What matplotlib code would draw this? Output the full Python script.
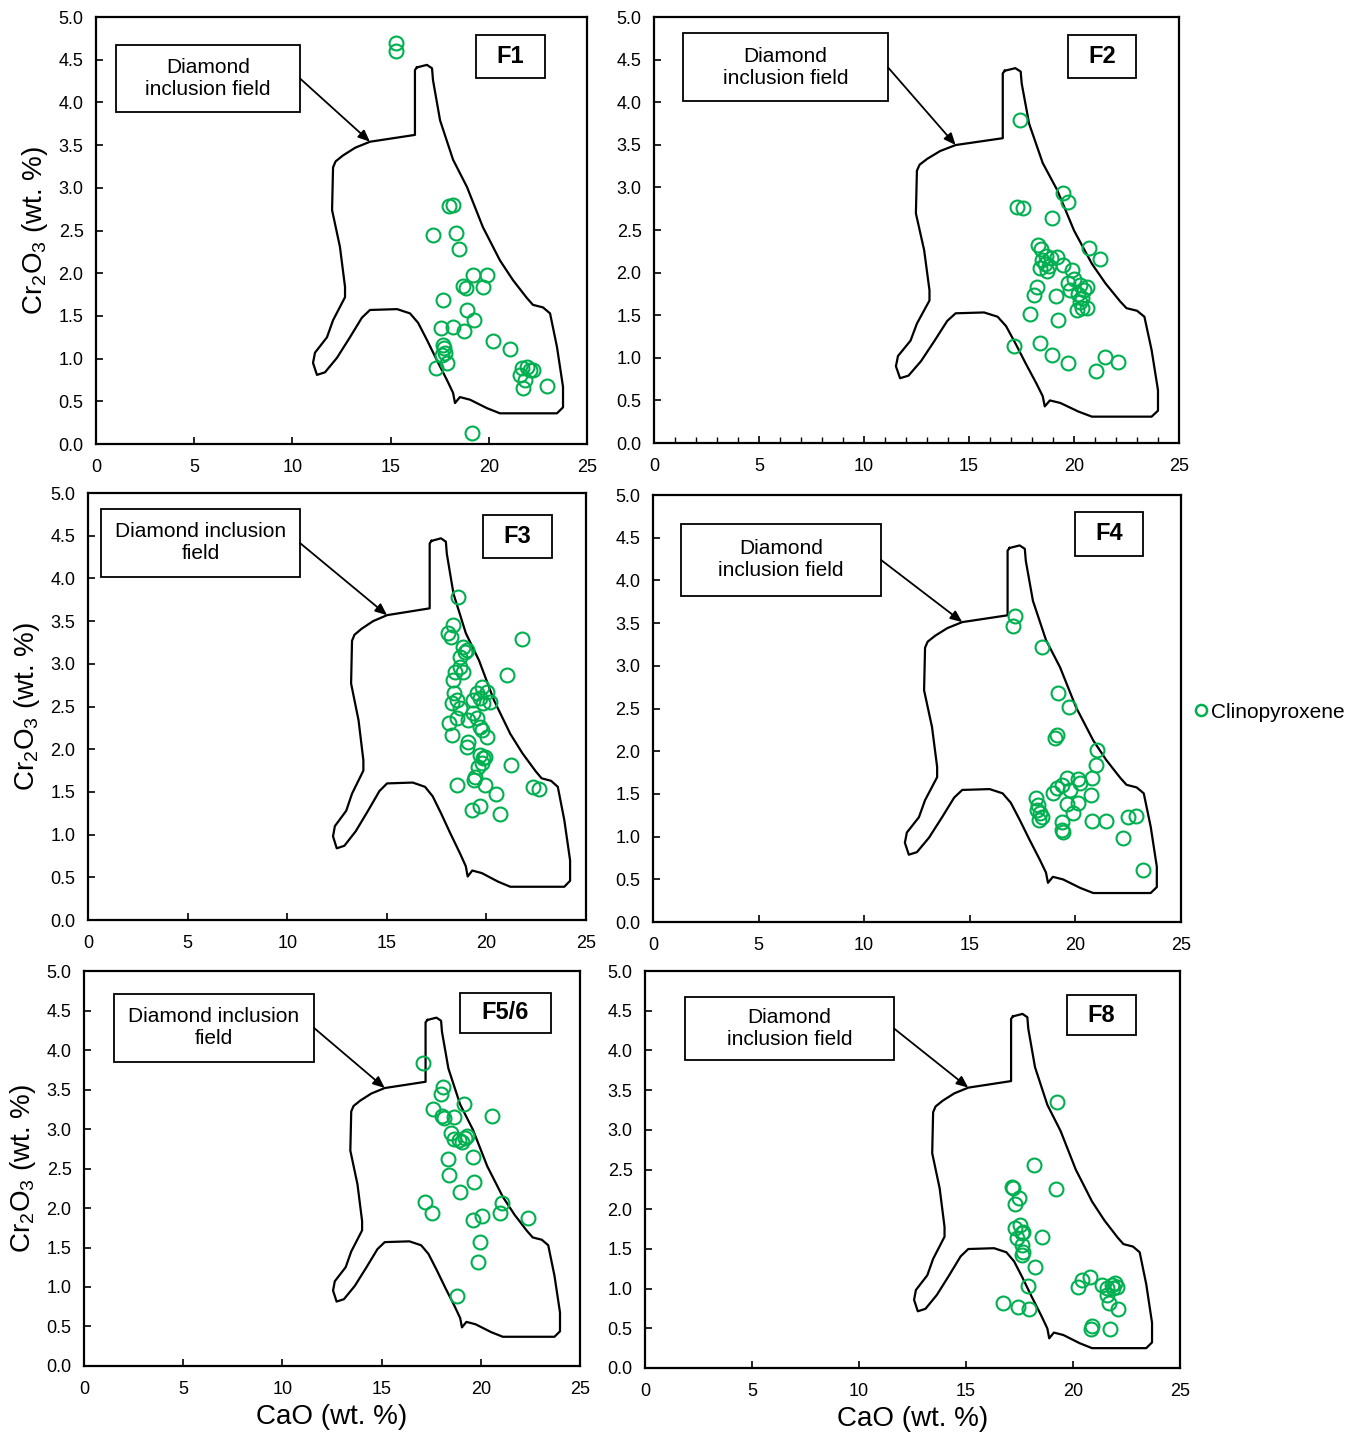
import matplotlib
matplotlib.use("Agg")
import matplotlib.pyplot as plt
from matplotlib.patches import Rectangle
from matplotlib.lines import Line2D
import numpy as np

plt.rcParams['font.family'] = ['Liberation Sans', 'DejaVu Sans']
plt.rcParams['mathtext.default'] = 'regular'
plt.rcParams['mathtext.fontset'] = 'custom'
plt.rcParams['mathtext.rm'] = 'Liberation Sans'

GREEN = '#00B050'

# Diamond-inclusion field outline (CaO, Cr2O3 in wt.%)
field_cao = [16.34, 16.24, 16.24, 13.95, 13.20, 12.58, 12.20, 12.07, 12.02, 12.42, 12.68, 12.68,
             12.07, 11.76, 11.15, 11.05, 11.25, 11.66, 12.27, 12.93, 13.54, 13.95,
             15.33, 15.99, 16.40, 16.85, 17.36, 17.87, 18.18, 18.28, 18.53, 19.04,
             19.91, 20.57, 22.25, 23.47, 23.78, 23.78, 23.47, 23.12, 22.76, 22.25,
             21.94, 21.23, 20.57, 19.70, 18.89, 18.18, 17.52, 17.16, 17.11, 16.85, 16.34]
field_cr2o3 = [4.41, 4.38, 3.62, 3.54, 3.47, 3.38, 3.31, 3.24, 2.74, 2.31, 1.84, 1.72,
               1.45, 1.25, 1.07, 0.95, 0.81, 0.84, 1.01, 1.25, 1.48, 1.57,
               1.58, 1.53, 1.42, 1.22, 0.98, 0.75, 0.60, 0.48, 0.55, 0.52,
               0.42, 0.36, 0.36, 0.36, 0.43, 0.67, 1.14, 1.53, 1.60, 1.63,
               1.71, 1.92, 2.15, 2.54, 3.01, 3.33, 3.79, 4.26, 4.40, 4.44, 4.41]

# clinopyroxene analyses per facies
f1_cao = [15.27, 15.27, 17.97, 18.18, 17.16, 18.33, 18.48, 19.20, 19.91, 18.69, 18.84,
          19.70, 17.67, 18.89, 19.25, 17.57, 18.18, 18.74, 20.21, 21.08, 17.67, 17.72,
          17.77, 17.62, 17.87, 17.31, 21.69, 21.94, 22.10, 22.25, 21.59, 21.84, 21.74,
          22.96, 19.14]
f1_cr2o3 = [4.70, 4.60, 2.79, 2.80, 2.45, 2.47, 2.28, 1.98, 1.98, 1.85, 1.83,
            1.84, 1.69, 1.57, 1.45, 1.36, 1.37, 1.32, 1.21, 1.11, 1.16, 1.12,
            1.07, 1.04, 0.95, 0.89, 0.89, 0.90, 0.87, 0.87, 0.81, 0.75, 0.66,
            0.68, 0.13]

f2_cao = [17.43, 17.29, 17.57, 19.48, 19.71, 18.95, 18.29, 18.43, 18.40, 18.60, 18.70,
          18.50, 18.80, 18.65, 18.90, 19.19, 19.48, 19.90, 20.71, 21.24, 20.00, 20.30,
          20.50, 20.20, 20.40, 19.80, 20.60, 20.30, 19.71, 20.14, 20.38, 20.62, 18.24,
          18.10, 19.14, 17.90, 19.24, 17.14, 18.38, 18.95, 19.71, 21.48, 22.10, 21.05]
f2_cr2o3 = [3.79, 2.77, 2.76, 2.93, 2.83, 2.64, 2.32, 2.28, 2.05, 2.10, 2.02,
            2.15, 2.08, 2.20, 2.17, 2.18, 2.09, 2.03, 2.29, 2.16, 1.92, 1.85,
            1.80, 1.75, 1.70, 1.80, 1.83, 1.65, 1.88, 1.56, 1.58, 1.58, 1.83,
            1.74, 1.73, 1.51, 1.44, 1.14, 1.18, 1.03, 0.94, 1.01, 0.95, 0.85]

f3_cao = [18.57, 18.32, 18.07, 18.22, 21.79, 18.83, 18.93, 18.67, 19.03, 21.03, 18.42,
          18.32, 18.83, 18.67, 18.37, 18.52, 19.78, 20.03, 19.53, 19.68, 19.33, 19.83,
          20.18, 18.27, 18.67, 18.52, 19.08, 19.53, 19.33, 19.68, 19.78, 18.12, 18.27,
          20.03, 19.08, 19.03, 19.68, 19.93, 19.78, 19.58, 19.83, 21.23, 19.43, 19.38,
          18.52, 19.93, 22.34, 22.64, 20.48, 19.68, 19.28, 20.68]
f3_cr2o3 = [3.78, 3.45, 3.36, 3.31, 3.29, 3.20, 3.14, 3.08, 3.16, 2.87, 2.90,
            2.81, 2.90, 2.96, 2.66, 2.58, 2.73, 2.67, 2.66, 2.60, 2.58, 2.54,
            2.55, 2.54, 2.48, 2.37, 2.34, 2.37, 2.42, 2.26, 2.22, 2.31, 2.17,
            2.14, 2.08, 2.03, 1.93, 1.91, 1.84, 1.79, 1.90, 1.81, 1.67, 1.64,
            1.58, 1.58, 1.56, 1.53, 1.48, 1.33, 1.29, 1.24]

f4_cao = [17.14, 17.05, 18.42, 19.18, 19.70, 19.13, 19.03, 21.02, 20.98, 19.60, 20.12,
          20.22, 20.79, 19.37, 19.13, 18.94, 19.74, 20.74, 20.12, 19.60, 19.89, 18.13,
          18.23, 18.18, 18.32, 18.42, 18.28, 20.79, 21.45, 22.49, 22.87, 19.37, 19.41,
          19.37, 22.25, 23.20]
f4_cr2o3 = [3.58, 3.47, 3.22, 2.68, 2.52, 2.19, 2.15, 2.01, 1.84, 1.69, 1.67,
            1.63, 1.69, 1.60, 1.57, 1.51, 1.55, 1.49, 1.39, 1.38, 1.28, 1.45,
            1.37, 1.31, 1.28, 1.23, 1.19, 1.18, 1.18, 1.23, 1.24, 1.17, 1.05,
            1.08, 0.98, 0.61]

f56_cao = [17.09, 18.09, 17.99, 19.15, 17.59, 18.04, 18.15, 18.65, 20.56, 18.50, 18.65,
           18.90, 19.20, 19.30, 19.05, 18.35, 19.61, 18.40, 19.66, 18.95, 17.19, 17.54,
           21.07, 20.97, 22.38, 19.61, 20.06, 19.96, 19.86, 18.80]
f56_cr2o3 = [3.84, 3.53, 3.44, 3.32, 3.25, 3.16, 3.14, 3.15, 3.16, 2.95, 2.87,
             2.86, 2.89, 2.91, 2.84, 2.62, 2.65, 2.42, 2.33, 2.20, 2.08, 1.94,
             2.06, 1.94, 1.87, 1.85, 1.90, 1.57, 1.32, 0.89]

f8_cao = [19.25, 18.18, 19.21, 17.15, 17.20, 17.48, 17.29, 17.52, 17.66, 17.29, 17.62,
          17.38, 18.55, 17.62, 17.66, 17.62, 18.22, 17.90, 16.73, 17.43, 17.94, 20.23,
          20.42, 20.79, 21.36, 21.59, 21.82, 21.96, 21.87, 22.06, 21.59, 21.68, 22.10,
          20.89, 20.84, 21.73]
f8_cr2o3 = [3.35, 2.56, 2.25, 2.28, 2.27, 2.14, 2.07, 1.80, 1.71, 1.76, 1.70,
            1.64, 1.65, 1.55, 1.46, 1.42, 1.27, 1.03, 0.82, 0.77, 0.74, 1.02,
            1.11, 1.15, 1.05, 1.01, 1.05, 1.07, 1.01, 1.02, 0.92, 0.82, 0.74,
            0.53, 0.49, 0.49]

panel_names = ['F1', 'F2', 'F3', 'F4', 'F5/6', 'F8']
panel_cao = [f1_cao, f2_cao, f3_cao, f4_cao, f56_cao, f8_cao]
panel_cr2o3 = [f1_cr2o3, f2_cr2o3, f3_cr2o3, f4_cr2o3, f56_cr2o3, f8_cr2o3]
field_notes = ['Diamond\ninclusion field', 'Diamond\ninclusion field',
               'Diamond inclusion\nfield', 'Diamond\ninclusion field',
               'Diamond inclusion\nfield', 'Diamond\ninclusion field']

# layout: axes rect, field extent (xmin, xmax, ymin, ymax), note box, name box
layout = [
    dict(rect=[0.0706, 0.6899, 0.3610, 0.2982], field=(11.05, 23.78, 0.36, 4.44),
         note=(1.02, 10.39, 3.89, 4.67), name=(19.35, 22.86, 4.29, 4.79)),
    dict(rect=[0.4809, 0.6906, 0.3860, 0.2975], field=(11.52, 24.00, 0.31, 4.40),
         note=(1.38, 11.14, 4.01, 4.81), name=(19.71, 22.95, 4.28, 4.79)),
    dict(rect=[0.0647, 0.3575, 0.3662, 0.2982], field=(12.30, 24.20, 0.39, 4.47),
         note=(0.65, 10.64, 4.02, 4.81), name=(19.83, 23.29, 4.24, 4.74)),
    dict(rect=[0.4801, 0.3561, 0.3882, 0.2982], field=(11.93, 23.86, 0.34, 4.41),
         note=(1.33, 10.80, 3.82, 4.66), name=(19.98, 23.20, 4.29, 4.80)),
    dict(rect=[0.0618, 0.0461, 0.3647, 0.2758], field=(12.55, 23.99, 0.37, 4.41),
         note=(1.51, 11.59, 3.85, 4.71), name=(18.95, 23.54, 4.22, 4.72)),
    dict(rect=[0.4743, 0.0447, 0.3934, 0.2772], field=(12.57, 23.69, 0.25, 4.46),
         note=(1.87, 11.64, 3.88, 4.67), name=(19.72, 22.94, 4.19, 4.70)),
]

fig = plt.figure(figsize=(13.6, 14.32), dpi=100)

fx = np.array(field_cao)
fy = np.array(field_cr2o3)
for i, spec in enumerate(layout):
    ax = fig.add_axes(spec['rect'])
    ax.set_xlim(0, 25)
    ax.set_ylim(0, 5)
    ax.set_xticks(np.arange(0, 26, 5))
    ax.set_yticks(np.arange(0, 5.01, 0.5))
    ax.set_yticklabels([f'{v:.1f}' for v in np.arange(0, 5.01, 0.5)])
    if panel_names[i] == 'F2':
        ax.set_xticks(np.arange(0, 26, 1), minor=True)
        ax.tick_params(axis='x', which='minor', direction='in', length=4, width=1)
    ax.tick_params(direction='in', length=5, width=1.2, labelsize=13, pad=9)
    ax.tick_params(axis='x', pad=11)
    for s in ax.spines.values():
        s.set_linewidth(1.6)

    # field outline rescaled to this panel
    x0, x1, y0, y1 = spec['field']
    sx = (fx - fx.min()) / (fx.max() - fx.min()) * (x1 - x0) + x0
    sy = (fy - fy.min()) / (fy.max() - fy.min()) * (y1 - y0) + y0
    ax.plot(sx, sy, color='black', lw=1.6, zorder=2)

    ax.plot(panel_cao[i], panel_cr2o3[i], 'o', ms=10, mfc='none', mec=GREEN,
            mew=1.5, zorder=3)

    # note box with arrow to the field
    nx0, nx1, ny0, ny1 = spec['note']
    ax.add_patch(Rectangle((nx0, ny0), nx1 - nx0, ny1 - ny0, fill=False,
                           ec='black', lw=1.3, zorder=4))
    ax.text((nx0 + nx1) / 2, (ny0 + ny1) / 2, field_notes[i], ha='center',
            va='center', fontsize=15, linespacing=1.2, zorder=5)
    ax.annotate('', xy=(sx[3], sy[3]), xytext=(nx1, (ny0 + ny1) / 2),
                arrowprops=dict(arrowstyle='-|>,head_length=0.7,head_width=0.3',
                                color='black', lw=1.3, shrinkA=0, shrinkB=0),
                zorder=5)

    # facies label
    bx0, bx1, by0, by1 = spec['name']
    ax.add_patch(Rectangle((bx0, by0), bx1 - bx0, by1 - by0, fill=False,
                           ec='black', lw=1.3, zorder=4))
    ax.text((bx0 + bx1) / 2, (by0 + by1) / 2, panel_names[i], ha='center',
            va='center', fontsize=17, fontweight='bold', zorder=5)

    if i % 2 == 0:
        ax.set_ylabel('Cr$_2$O$_3$ (wt. %)', fontsize=20, labelpad=6)
    if i >= 4:
        ax.set_xlabel('CaO (wt. %)', fontsize=20, labelpad=4)

handle = Line2D([], [], ls='none', marker='o', ms=8, mfc='none', mec=GREEN, mew=1.8)
fig.legend([handle], ['Clinopyroxene'], loc='center left', frameon=False,
           bbox_to_anchor=(1184 / 1360, 1 - 712 / 1432), fontsize=15,
           handlelength=0.6, handletextpad=0.2, borderpad=0)

fig.savefig('out.png', dpi=100)
